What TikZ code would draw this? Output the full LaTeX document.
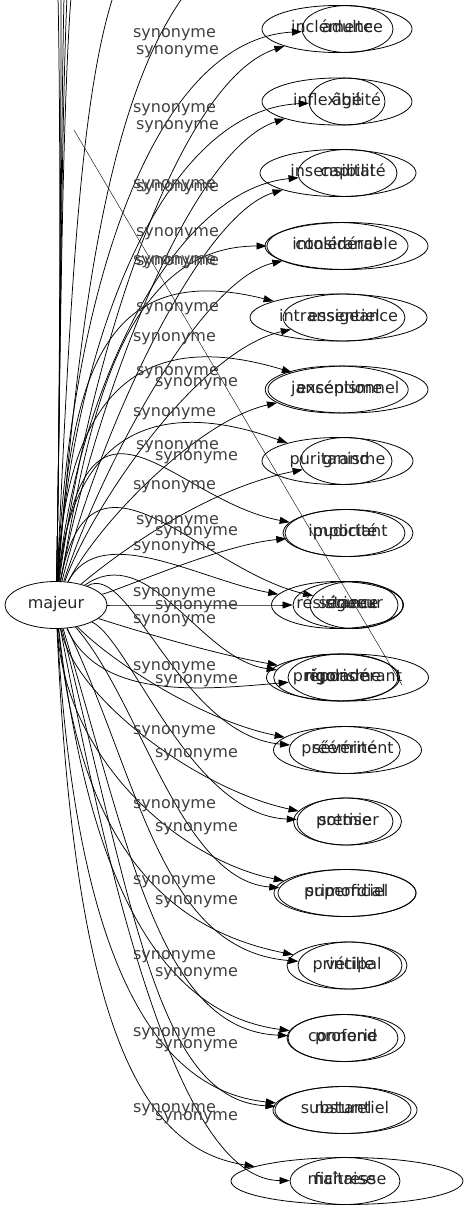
\documentclass[tikz,border=0pt]{standalone}
\usepackage{fontspec}
\setmainfont{DejaVu Sans}
\usetikzlibrary{shapes.geometric,arrows.meta}
\newcommand\zw[1]{\makebox[0pt]{\strut #1}}
\begin{document}
\begin{tikzpicture}[x=1pt,y=-1pt,
  nd/.style={ellipse,draw,line width=0.8pt,minimum height=47pt,inner sep=0pt,font=\fontsize{16}{19}\selectfont,text=black!85},
  edge/.style={draw,line width=0.75pt,-{Triangle[length=10pt,width=7pt]}},
  plain/.style={draw,line width=0.75pt},
  lab/.style={font=\fontsize{16}{19}\selectfont,text=black!75,inner sep=0pt}]
\useasboundingbox (0,0) rectangle (469,1211);
\node[nd,minimum width=102pt] (m) at (56,605) {\zw{majeur}};
\foreach \n/\x/\y/\w/\t in {
  r1a/337/29/150/inclémence, r1b/347.5/29/91/adulte,
  r2a/337/101.5/150/inflexibilité, r2b/347/101.5/76/âgé,
  r3a/338/173/156/insensibilité, r3b/347.5/173/99/capital,
  r4a/346.5/246/163/considérable, r4b/337.5/246/141/intolérance,
  r5a/338.5/317.5/177/intransigeance, r5b/344/317.5/122/essentiel,
  r6a/348/389.5/160/exceptionnel, r6b/336.7/389.5/143/jansénisme,
  r7a/337.5/461/151/puritanisme, r7b/346/461/92/grand,
  r8a/348/533/130/important, r8b/345/533/120/pudicité,
  r9a/337.5/605/132/résistance, r9b/348/605/110/sérieux, r9c/354/605/88/rigueur,
  r10a/347.5/677.5/162/prépondérant, r10b/336.7/677.5/126/rigolade, r10c/343/677.5/110/rigorisme,
  r11a/347.5/750/148/prééminent, r11b/344.7/750/111/sévérité,
  r12a/347.5/821.5/108/premier, r12b/345/821.5/96/sottise,
  r13a/345/893/142/primordial, r13b/347/893/138/superficiel,
  r14a/347/965.5/120/principal, r14b/350/965.5/104/vétille,
  r15a/346/1038/118/profond, r15b/343/1038/110/connerie,
  r16a/345/1110/144/substantiel, r16b/343/1110/136/naturel,
  r17a/347/1181/232/maîtresse, r17b/345/1181/110/fichaise}
  \node[nd,minimum width=\w pt] (\n) at (\x,\y) {\zw{\t}};
% edges to the nodes
\foreach \t/\ax/\ay/\bx/\by in {
  r1b/70/300/150/40, r1a/90/350/180/80,
  r2b/72/350/160/110, r2a/95/400/190/150,
  r3b/75/400/170/190, r3a/100/430/200/215,
  r4b/85/450/112/246, r4a/100/470/200/280,
  r5a/70/400/90/255, r5b/95/500/200/350,
  r6a/65/420/120/320, r6b/100/520/200/420,
  r7a/70/450/140/390, r7b/110/560/200/490,
  r8a/85/350/170/500, r8b/120/590/220/545,
  r9b/150/605/250/605, r9a/100/520/200/580, r9c/90/420/200/570,
  r10a/150/635/220/655, r10b/150/540/200/660, r10c/100/700/200/690,
  r11a/110/660/200/720, r11b/130/560/180/735,
  r12a/75/700/200/790, r12b/130/640/190/815,
  r13a/65/760/180/860, r13b/140/700/180/880,
  r14a/80/850/170/930, r14b/140/780/160/950,
  r15a/90/900/170/1015, r15b/130/850/160/1030,
  r16a/75/950/150/1090, r16b/135/920/160/1100,
  r17a/75/1050/150/1150, r17b/130/1000/200/1180}
  \draw[edge] (m) .. controls (\ax,\ay) and (\bx,\by) .. (\t);
% edges leaving the top of the picture
\foreach \i/\ex in {1/58,2/61,3/64,4/67,5/71}
  \coordinate (o\i) at (\ex,-3);
\foreach \i in {1,...,5}
  \draw[plain] (m) .. controls (60,420) and (61,130) .. (o\i);
\coordinate (o6) at (113,-3);
\coordinate (o7) at (183,-3);
\draw[plain] (m) .. controls (70,300) and (80,100) .. (o6);
\draw[plain] (m) .. controls (80,300) and (110,100) .. (o7);
% thin diagonal
\coordinate (d1) at (74,130);
\coordinate (d2) at (402,685);
\draw[line width=0.4pt] (d1) -- (d2);
% labels
\foreach \x/\y [count=\i] in {
  174.5/35,177.5/52, 174.5/110,177.5/127, 174.5/186,177.5/189,
  177.5/234,174.5/262,177.5/263, 177.5/309,174.5/339,
  177.5/373,196.5/384, 174.5/414,177.5/447,196.5/458,
  174.5/487,177.5/522,196.5/533,174.5/548,
  174.5/594,196.5/607,174.5/621, 174.5/668,196.5/681,
  174.5/732,196.5/755, 174.5/806,196.5/829, 174.5/882,196.5/902,
  174.5/957,196.5/974, 174.5/1034,196.5/1046, 174.5/1110,196.5/1118}
  \node[lab] (l\i) at (\x,\y) {synonyme};
\end{tikzpicture}
\end{document}
